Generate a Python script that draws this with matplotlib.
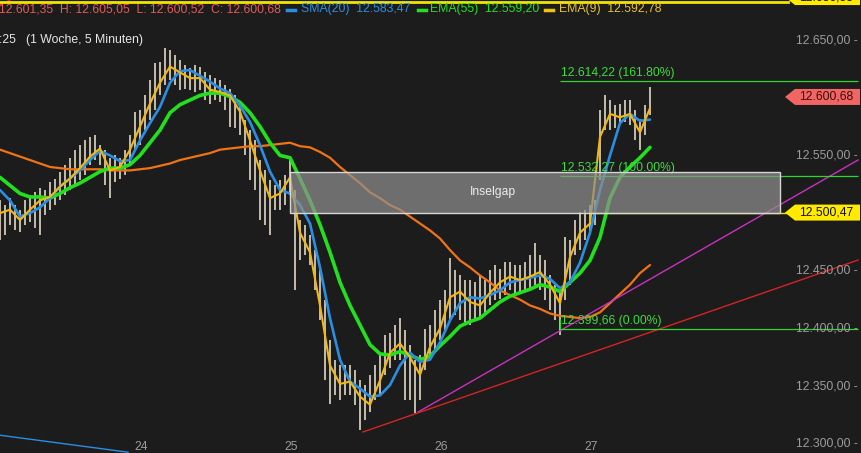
import numpy as np
import matplotlib.pyplot as plt
from matplotlib.patches import Rectangle, Polygon
from matplotlib.lines import Line2D

plt.rcParams['font.family'] = ['Liberation Sans', 'DejaVu Sans']

# zeitachse: tage (24 = 24. des monats), 5-minuten-chart
t_start = 23.06
ma_step = 1 / 15
bar_step = 1 / 30

# kerzen (hoch / tief)
bar_high = [12511, 12507, 12513, 12507, 12503, 12511, 12516, 12518, 12522, 12520,
            12527, 12530, 12536, 12542, 12548, 12555, 12559, 12563, 12566, 12568,
            12559, 12555, 12548, 12550, 12548, 12555, 12568, 12588, 12589, 12602,
            12615, 12630, 12631, 12643, 12641, 12637, 12633, 12628, 12626, 12628,
            12627, 12622, 12620, 12617, 12615, 12611, 12608, 12602, 12594, 12581,
            12572, 12563, 12546, 12537, 12529, 12524, 12529, 12533, 12546, 12520,
            12494, 12490, 12481, 12468, 12451, 12425, 12390, 12373, 12368, 12368,
            12368, 12364, 12355, 12351, 12360, 12368, 12377, 12394, 12396, 12403,
            12409, 12399, 12386, 12373, 12377, 12400, 12403, 12416, 12425, 12433,
            12461, 12451, 12446, 12442, 12442, 12440, 12446, 12442, 12451, 12455,
            12452, 12458, 12458, 12455, 12455, 12458, 12464, 12474, 12464, 12459,
            12446, 12438, 12433, 12479, 12477, 12494, 12501, 12503, 12507, 12511,
            12589, 12602, 12598, 12594, 12595, 12598, 12598, 12589, 12582, 12594,
            12609]
bar_low = [12477, 12481, 12490, 12485, 12484, 12490, 12492, 12487, 12481, 12498,
           12503, 12507, 12511, 12516, 12520, 12524, 12529, 12533, 12542, 12546,
           12542, 12524, 12513, 12527, 12530, 12533, 12542, 12555, 12559, 12572,
           12581, 12589, 12602, 12611, 12615, 12611, 12607, 12608, 12607, 12605,
           12607, 12598, 12595, 12598, 12596, 12589, 12575, 12574, 12568, 12550,
           12529, 12520, 12494, 12490, 12481, 12503, 12503, 12507, 12516, 12433,
           12459, 12464, 12455, 12433, 12407, 12355, 12335, 12342, 12338, 12342,
           12342, 12334, 12312, 12321, 12328, 12338, 12342, 12360, 12366, 12373,
           12373, 12338, 12338, 12327, 12338, 12364, 12373, 12381, 12390, 12399,
           12407, 12412, 12407, 12406, 12403, 12407, 12409, 12412, 12420, 12425,
           12426, 12429, 12433, 12429, 12432, 12433, 12435, 12438, 12433, 12425,
           12416, 12407, 12394, 12425, 12438, 12464, 12468, 12477, 12484, 12490,
           12529, 12572, 12572, 12574, 12576, 12579, 12576, 12563, 12555, 12568,
           12585]

ema9 = [12500, 12503, 12494, 12503, 12511, 12514, 12523, 12530, 12539, 12549,
        12556, 12537, 12540, 12555, 12575, 12595, 12613, 12627, 12622, 12617,
        12617, 12607, 12605, 12602, 12588, 12563, 12537, 12513, 12517, 12531,
        12483, 12466, 12420, 12368, 12352, 12354, 12341, 12334, 12355, 12379,
        12387, 12375, 12360, 12384, 12400, 12427, 12432, 12423, 12420, 12431,
        12440, 12445, 12442, 12445, 12449, 12438, 12422, 12462, 12483, 12491,
        12566, 12586, 12583, 12586, 12570, 12591]
sma20 = [12520, 12511, 12497, 12500, 12505, 12513, 12523, 12530, 12537, 12546,
         12554, 12550, 12545, 12546, 12563, 12578, 12592, 12613, 12623, 12624,
         12619, 12614, 12608, 12604, 12593, 12579, 12559, 12536, 12520, 12517,
         12507, 12491, 12453, 12409, 12373, 12354, 12348, 12341, 12342, 12351,
         12368, 12379, 12371, 12373, 12388, 12407, 12422, 12427, 12426, 12429,
         12433, 12440, 12442, 12444, 12446, 12443, 12435, 12440, 12457, 12483,
         12520, 12550, 12578, 12586, 12580, 12581]
ema55 = [12531, 12524, 12517, 12514, 12514, 12513, 12517, 12522, 12526, 12531,
         12536, 12539, 12539, 12542, 12550, 12561, 12572, 12587, 12594, 12598,
         12602, 12604, 12604, 12601, 12596, 12587, 12575, 12561, 12550, 12548,
         12530, 12511, 12490, 12466, 12440, 12420, 12403, 12386, 12378, 12377,
         12380, 12377, 12373, 12376, 12385, 12393, 12402, 12406, 12409, 12416,
         12423, 12428, 12431, 12434, 12438, 12436, 12432, 12440, 12448, 12459,
         12479, 12513, 12531, 12540, 12548, 12557]
ema_long = [12555, 12552, 12549, 12546, 12543, 12540, 12539, 12538, 12538, 12538,
            12538, 12537, 12537, 12537, 12538, 12539, 12541, 12543, 12546, 12548,
            12550, 12552, 12555, 12556, 12557, 12558, 12558, 12559, 12560, 12561,
            12558, 12557, 12553, 12548, 12540, 12533, 12526, 12518, 12513, 12507,
            12503, 12497, 12491, 12485, 12478, 12468, 12459, 12453, 12446, 12440,
            12433, 12429, 12425, 12420, 12417, 12413, 12411, 12410, 12409, 12410,
            12414, 12422, 12430, 12438, 12448, 12455]

fib_levels = [12614.22, 12532.27, 12399.66]
fib_labels = ["12.614,22 (161.80%)", "12.532,27 (100.00%)", "12.399,66 (0.00%)"]

gap_low, gap_high = 12500.47, 12535.6
gap_start, gap_end = 24.993, 28.26

magenta_t, magenta_p = [25.847, 28.78], [12327.6, 12546.0]
red_t, red_p = [25.48, 28.78], [12310.3, 12459.3]
blue_t, blue_p = [23.06, 23.913], [12307.5, 12292.8]
red2_t, red2_p = [23.06, 23.127], [12680.3, 12684.7]

y_ticks = [12650, 12550, 12450, 12400, 12350, 12300]
y_tick_labels = ["12.650,00 -", "12.550,00 -", "12.450,00 -", "12.400,00 -",
                 "12.350,00 -", "12.300,00 -"]
day_ticks = [24, 25, 26, 27]

bg = '#1c1c1c'
fig = plt.figure(figsize=(8.61, 4.53), dpi=100)
fig.patch.set_facecolor(bg)
ax = fig.add_axes([0, 0, 1, 1])
ax.set_facecolor(bg)
ax.set_xlim(23.06, 28.8)
ax.set_ylim(12292.1, 12684.7)
ax.axis('off')


def px_x(x):
    return 24 + (x - 141) / 150


def px_y(y):
    return 12650 - (y - 40) * 50 / 57.7


ppx = 50 / 57.7  # preis pro pixel

bar_t = t_start + np.arange(len(bar_high)) * bar_step
ma_t = t_start + np.arange(len(ema9)) * ma_step

ax.vlines(bar_t, bar_low, bar_high, colors='#f2e8d2', lw=1.1, zorder=2)

ax.plot(ma_t, ema_long, color='#f07316', lw=1.6, zorder=3, solid_capstyle='round')
ax.plot(ma_t, ema55, color='#22e01e', lw=2.6, zorder=4, solid_capstyle='round')
ax.plot(ma_t, sma20, color='#2a8ee2', lw=1.9, zorder=5, solid_capstyle='round')
ax.plot(ma_t, ema9, color='#f4b70e', lw=1.5, zorder=6, solid_capstyle='round')

# trendlinien
ax.plot(magenta_t, magenta_p, color='#c832c0', lw=1.0, zorder=3)
ax.plot(red_t, red_p, color='#d42424', lw=1.0, zorder=3)
ax.plot(blue_t, blue_p, color='#2a8ee2', lw=1.0, zorder=3)
ax.plot(red2_t, red2_p, color='#d42424', lw=1.0, zorder=3)

# fibonacci
ax.hlines(fib_levels, px_x(560), px_x(858), color='#2ed62e', lw=0.9, zorder=7)
ax.vlines(px_x(560), fib_levels[2], fib_levels[2] + 10 * ppx, color='#2ed62e', lw=0.8, zorder=7)
for lev, lab in zip(fib_levels, fib_labels):
    ax.text(px_x(561), lev + 2 * ppx, lab, color='#3ddc3d', fontsize=8.7,
            ha='left', va='bottom', zorder=8)

# inselgap
ax.add_patch(Rectangle((gap_start, gap_low), gap_end - gap_start, gap_high - gap_low,
                       fc='#8e8e8e', alpha=0.72, ec='none', zorder=9))
ax.add_patch(Rectangle((gap_start, gap_low), gap_end - gap_start, gap_high - gap_low,
                       fill=False, ec='#d6d6d6', lw=1.0, zorder=9))
ax.text(px_x(493), (gap_low + gap_high) / 2, "Inselgap", color='#ececec',
        fontsize=8.7, ha='center', va='center', zorder=10)

# horizontale linien
ax.plot([27.0, px_x(788)], [gap_low, gap_low], color='#f2e600', lw=1.0, zorder=8)
ax.plot([23.06, px_x(788)], [px_y(1.5), px_y(1.5)], color='#f2e600', lw=2.0, zorder=8)

# achsenbeschriftung
for v, lab in zip(y_ticks, y_tick_labels):
    ax.text(px_x(858), v, lab, color='#9c9c9c', fontsize=8.7, ha='right', va='center', zorder=8)
for d in day_ticks:
    ax.text(d, px_y(447), str(d), color='#9c9c9c', fontsize=8.7, ha='center', va='center')


def tag(price, label, fc, tc):
    h = 8 * ppx
    pts = [(px_x(785), price), (px_x(795), price + h), (px_x(860), price + h),
           (px_x(860), price - h), (px_x(795), price - h)]
    ax.add_patch(Polygon(pts, closed=True, fc=fc, ec='none', zorder=11))
    ax.text(px_x(826), price, label, color=tc, fontsize=8.7, ha='center', va='center', zorder=12)


tag(12600.68, "12.600,68", '#f26565', '#3a0c0c')
tag(12500.47, "12.500,47", '#ffea00', '#111111')
tag(px_y(-3), "12.686,55", '#ffea00', '#111111')

# kopfzeile
def ftext(x, y, s, c):
    fig.text(x / 861, 1 - y / 453, s, color=c, fontsize=8.8, ha='left', va='center')


def fdash(x, y, c):
    fig.add_artist(Line2D([x / 861, (x + 8) / 861], [1 - y / 453, 1 - y / 453],
                          color=c, lw=2.5, transform=fig.transFigure))


ftext(-1, 9, "12.601,35  H: 12.605,05  L: 12.600,52  C: 12.600,68", '#e25a58')
fdash(287, 10, '#2a8ee2')
ftext(301, 9, "SMA(20)  12.583,47", '#2a8ee2')
fdash(418, 10, '#22e01e')
ftext(430, 9, "EMA(55)  12.559,20", '#22e01e')
fdash(545, 10, '#f4c20e')
ftext(559, 9, "EMA(9)  12.592,78", '#e8c22a')
ftext(-1, 40, ":25   (1 Woche, 5 Minuten)", '#e6e6e6')

fig.savefig('out.png', dpi=100, facecolor=bg)
